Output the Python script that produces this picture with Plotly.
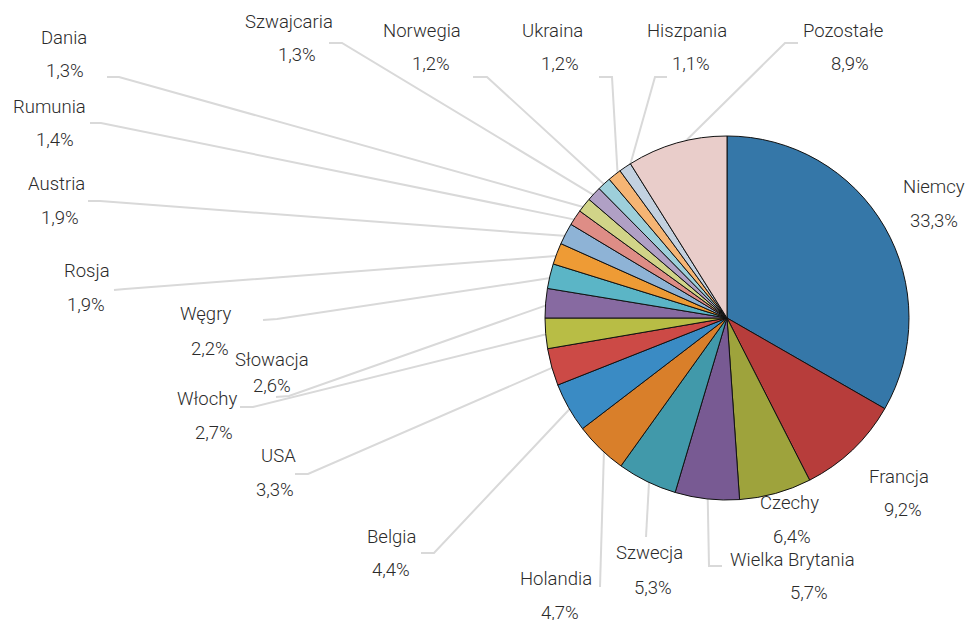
import math
import plotly.graph_objects as go

# ---- data ----
countries = ["Niemcy", "Francja", "Czechy", "Wielka Brytania", "Szwecja", "Holandia",
             "Belgia", "USA", "Włochy", "Słowacja", "Węgry", "Rosja", "Austria",
             "Rumunia", "Dania", "Szwajcaria", "Norwegia", "Ukraina", "Hiszpania", "Pozostałe"]
shares = [33.3, 9.2, 6.4, 5.7, 5.3, 4.7, 4.4, 3.3, 2.7, 2.6, 2.2, 1.9, 1.9,
          1.4, 1.3, 1.3, 1.2, 1.2, 1.1, 8.9]
colors = ["#3577a8", "#b73d3b", "#9ea33c", "#785a93", "#4199aa", "#d97f2a",
          "#3a8bc4", "#cc4a46", "#b8bd45", "#876aa1", "#5bb5c6", "#ee9b35", "#8eb3d6",
          "#de8d86", "#d1d488", "#b0a0c5", "#9dcfda", "#f5b574", "#c3d1e0", "#e9cdca"]

# ---- layout (pixel positions of labels and leader-line ends) ----
W, H = 967, 620
CX, CY, R = 727, 318, 182
# name centre (x, y), percent centre (x, y), leader end point, leader elbow point
label_layout = {
    "Niemcy": ((934, 187), (934, 221), None, None),
    "Francja": ((899, 477), (903, 510), None, None),
    "Czechy": ((789, 503), (792, 537), None, None),
    "Wielka Brytania": ((792, 560), (809, 593), (722, 566), (709, 566)),
    "Szwecja": ((649, 553), (653, 588), (646, 537), (646, 537)),
    "Holandia": ((556, 579), (560, 613), (600, 587), (600, 587)),
    "Belgia": ((391, 537), (391, 570), (421, 553), (434, 553)),
    "USA": ((278, 456), (275, 490), (295, 474), (308, 474)),
    "Włochy": ((207, 399), (214, 433), (240, 407), (253, 407)),
    "Słowacja": ((272, 360), (272, 386), (276, 397), (289, 396)),
    "Węgry": ((206, 314), (210, 349), (263, 320), (277, 319)),
    "Rosja": ((87, 271), (86, 305), (114, 290), (125, 289)),
    "Austria": ((56, 184), (60, 218), (88, 201), (100, 201)),
    "Rumunia": ((49, 107), (55, 140), (90, 123), (101, 123)),
    "Dania": ((64, 38), (65, 71), (107, 77), (119, 77)),
    "Szwajcaria": ((289, 22), (297, 55), (329, 43), (342, 43)),
    "Norwegia": ((422, 31), (431, 64), (473, 77), (487, 77)),
    "Ukraina": ((552, 31), (560, 64), (599, 77), (612, 77)),
    "Hiszpania": ((687, 31), (691, 64), (667, 77), (655, 77)),
    "Pozostałe": ((843, 31), (850, 64), (798, 43), (785, 43)),
}

fig = go.Figure()

# leader lines (drawn under the pie)
total = sum(shares)
cum = 0.0
for name, v in zip(countries, shares):
    mid = (cum + v / 2) / total * 2 * math.pi
    cum += v
    _, _, end, elbow = label_layout[name]
    if end is None:
        continue
    ex = CX + 0.97 * R * math.sin(mid)
    ey = CY - 0.97 * R * math.cos(mid)
    fig.add_trace(go.Scatter(x=[end[0], elbow[0], ex], y=[end[1], elbow[1], ey],
                             mode="lines", line=dict(color="#d9d9d9", width=2),
                             hoverinfo="skip", showlegend=False))

fig.add_trace(go.Pie(
    labels=countries, values=shares, sort=False, direction="clockwise", rotation=0,
    marker=dict(colors=colors, line=dict(color="#111111", width=1)),
    textinfo="none", showlegend=False,
    domain=dict(x=[(CX - R) / W, (CX + R) / W], y=[(H - CY - R) / H, (H - CY + R) / H]),
))

font = dict(family="Roboto, DejaVu Sans, sans-serif", size=18.5, color="#2b2b2b", weight=300)
for name, v in zip(countries, shares):
    (nx, ny), (px, py), _, _ = label_layout[name]
    fig.add_annotation(x=nx, y=ny, text=name, showarrow=False, font=font,
                       xanchor="center", yanchor="middle", xref="x", yref="y")
    fig.add_annotation(x=px, y=py, text=f"{v:.1f}".replace(".", ",") + "%",
                       showarrow=False, font=font,
                       xanchor="center", yanchor="middle", xref="x", yref="y")

fig.update_layout(
    width=W, height=H, margin=dict(l=0, r=0, t=0, b=0),
    paper_bgcolor="white", plot_bgcolor="white",
    xaxis=dict(range=[0, W], visible=False, fixedrange=True),
    yaxis=dict(range=[H, 0], visible=False, fixedrange=True),
)

fig.write_html("out.html", config=dict(displayModeBar=False),
               post_script="document.body.style.margin='0';document.body.style.overflow='hidden';")
